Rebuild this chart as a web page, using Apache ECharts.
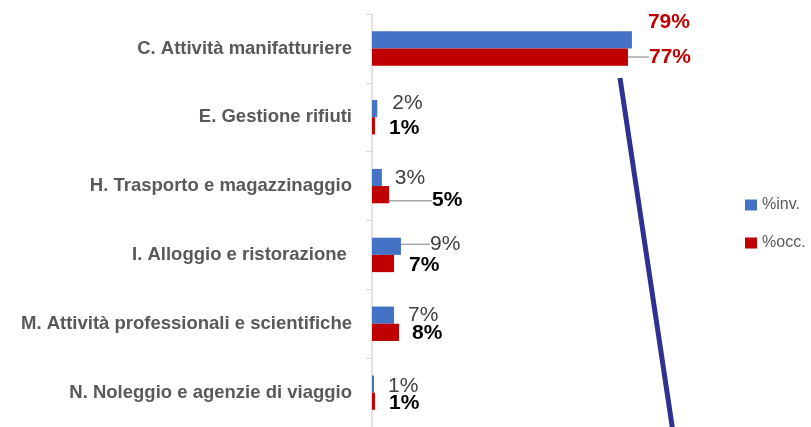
<!DOCTYPE html>
<html>
<head>
<meta charset="utf-8">
<script src="https://cdn.jsdelivr.net/npm/echarts@6/dist/echarts.min.js"></script>
<style>
  html, body { margin: 0; padding: 0; background: #fff; }
  #chart { width: 811px; height: 427px; }
</style>
</head>
<body>
<div id="chart"></div>
<script>
var dom = document.getElementById("chart");
var myChart = echarts.init(dom);

// settori
var categories = [
  'C. Attività manifatturiere',
  'E. Gestione rifiuti',
  'H. Trasporto e magazzinaggio',
  'I. Alloggio e ristorazione ',
  'M. Attività professionali e scientifiche',
  'N. Noleggio e agenzie di viaggio'
];
var invValues = [79, 1.6, 3.0, 8.8, 6.7, 0.6];
var occValues = [77.8, 0.9, 5.2, 6.7, 8.2, 0.9];
var invLabels = ['79%', '2%', '3%', '9%', '7%', '1%'];
var occLabels = ['77%', '1%', '5%', '7%', '8%', '1%'];

// spostamenti etichette (come nel grafico excel)
var invShift = [[11, -18], [10, -5], [8, 1], [24, -2], [9, 0], [9, 2]];
var occShift = [[16, 0], [9, 2], [38, 6], [10, 2], [8, 1], [9, 2]];
var invGuide = [false, false, false, true, false, false];
var occGuide = [true, false, true, false, false, false];

function makeData(values, labels, guide, first) {
  return values.map(function (v, i) {
    return {
      value: v,
      label: {
        formatter: labels[i],
        color: i === 0 ? '#c00000' : first,
        fontWeight: i === 0 ? 'bold' : undefined
      },
      labelLine: { show: guide[i] }
    };
  });
}

var labelBase = {
  show: true,
  position: 'right',
  distance: 5,
  fontSize: 21,
  fontFamily: 'Liberation Sans'
};

option = {
  animation: false,
  grid: { left: 372, width: 329, top: 14, bottom: -4 },
  legend: {
    orient: 'vertical',
    left: 740,
    top: 192,
    itemWidth: 12,
    itemHeight: 11,
    itemGap: 22,
    icon: 'rect',
    textStyle: { color: '#595959', fontSize: 16, fontFamily: 'Liberation Sans' },
    data: ['%inv.', '%occ.']
  },
  xAxis: {
    type: 'value',
    min: 0,
    max: 100,
    show: false
  },
  yAxis: {
    type: 'category',
    inverse: true,
    data: categories,
    axisLine: { lineStyle: { color: '#d9d9d9', width: 1.5 } },
    axisTick: { show: true, length: 6, lineStyle: { color: '#d9d9d9' } },
    axisLabel: {
      margin: 20,
      color: '#595959',
      fontSize: 18.5,
      fontWeight: 'bold',
      fontFamily: 'Liberation Sans'
    }
  },
  series: [
    {
      name: '%inv.',
      type: 'bar',
      barCategoryGap: '50%',
      barGap: '0%',
      itemStyle: { color: '#4472c4' },
      label: Object.assign({}, labelBase, { color: '#404040' }),
      labelLine: { lineStyle: { color: '#a6a6a6', width: 1.5 } },
      labelLayout: function (p) {
        return { dx: invShift[p.dataIndex][0], dy: invShift[p.dataIndex][1] };
      },
      data: makeData(invValues, invLabels, invGuide, '#404040')
    },
    {
      name: '%occ.',
      type: 'bar',
      barCategoryGap: '50%',
      barGap: '0%',
      itemStyle: { color: '#c00000' },
      label: Object.assign({}, labelBase, { color: '#000', fontWeight: 'bold' }),
      labelLine: { lineStyle: { color: '#a6a6a6', width: 1.5 } },
      labelLayout: function (p) {
        return { dx: occShift[p.dataIndex][0], dy: occShift[p.dataIndex][1] };
      },
      data: makeData(occValues, occLabels, occGuide, '#000')
    }
  ],
  graphic: [{
    type: 'line',
    shape: { x1: 620, y1: 78, x2: 673, y2: 432 },
    style: { stroke: '#2e3192', lineWidth: 5 }
  }]
};

if (option && typeof option === "object") {
    myChart.setOption(option, true);
}
</script>
</body>
</html>
